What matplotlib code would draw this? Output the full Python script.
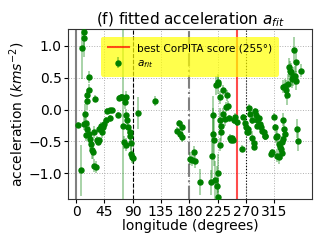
import matplotlib
matplotlib.use("Agg")
import matplotlib.pyplot as plt
import numpy as np

lon = [3, 8, 9, 12, 13, 12, 14, 15, 16, 17, 18, 20, 20, 18, 21, 22, 23, 25, 26, 28, 30, 29, 32, 33, 34, 36, 37, 39, 41, 42,
       45, 47, 49, 53, 57, 54, 67, 68, 71, 73, 75, 76, 79, 78, 80, 79, 81, 83, 85, 86, 87, 87, 89, 90, 99, 126,
       160, 164, 165, 168, 168,
       181, 184, 188, 189, 197,
       215, 216, 217, 218, 219, 221, 222, 225, 226, 224, 225, 226, 228, 229, 230, 231, 233, 229, 234, 237, 238, 240, 242, 243,
       245, 246, 247, 250, 251, 253, 255,
       263, 265, 268, 270, 271, 273, 274, 275, 277, 279, 280, 282, 283, 284, 286, 287, 288, 290, 292, 294, 296, 298, 300, 301,
       315, 316, 310, 312, 318, 319, 320, 322, 323, 324, 326, 327, 329, 330, 332, 329, 327,
       329, 332, 334, 336, 337, 339, 340, 341, 343, 344, 347, 348, 349, 350, 351, 352, 357]
acc = [-0.24, -0.95, 0.97, 1.22, 1.12, -0.22, -0.07, -0.21, -0.40, 0.14, 0.22, 0.51, 0.30, -0.30, -0.38, -0.46, -0.54, -0.63, -0.67, -0.35, 0.17, -0.88, -0.90, -0.47, -0.51, -0.48, -0.30, -0.25, -0.35, -0.28,
       -0.22, -0.17, -0.02, -0.01, -0.01, -0.14, -0.09, 0.18, 0.20, 0.19, -0.25, -0.51, -0.55, 0.11, 0.19, -0.09, -0.17, -0.28, -0.35, -0.41, -0.53, -0.69, -0.74, -0.76, -0.06, 0.13,
       -0.33, -0.21, -0.38, -0.28, -0.43,
       -0.77, -0.79, -0.67, -0.81, -1.13,
       -1.14, -0.72, -0.38, -0.09, -0.48, -1.11, 0.38, 0.40, 0.43, -1.19, -1.37, -1.00, -0.55, -0.17, -0.35, -0.25, -0.07, 0.19, 0.30, -0.15, 0.04, 0.22, 0.05, -0.13,
       -0.44, -0.48, -0.45, -0.48, -0.17, -0.11, -0.20,
       -0.61, -0.12, -0.21, -0.27, -0.35, -0.30, -0.35, 0.03, -0.07, -0.44, -0.17, -0.59, -0.53, -0.02, -0.09, -0.17, -0.25, -0.14, -0.22, -0.28, -0.33, -0.35, -0.41, -0.42,
       -0.11, -0.28, -0.69, -0.67, -0.43, -0.41, -0.72, -0.75, -0.54, -0.59, -0.61, -0.51, -0.16, -0.30, -0.38, -0.46, -0.68,
       0.36, 0.37, 0.31, 0.22, 0.40, 0.66, 0.61, 0.58, 0.48, 0.52, 0.93, 0.53, 0.45, 0.74, -0.30, -0.50, 0.61]
err = [0.05, 0.4, 0.5, 0.3, 0.3, 0.1, 0.15, 0.1, 0.1, 0.15, 0.1, 0.1, 0.1, 0.1, 0.15, 0.15, 0.1, 0.15, 0.1, 0.1, 0.05, 0.1, 0.1, 0.05, 0.05, 0.05, 0.05, 0.05, 0.1, 0.05,
       0.05, 0.05, 0.05, 0.03, 0.03, 0.05, 0.05, 0.05, 0.05, 0.05, 2.0, 0.1, 0.1, 0.1, 0.1, 0.1, 0.1, 0.1, 0.1, 0.1, 0.1, 0.1, 0.1, 0.1, 0.25, 0.08,
       0.05, 0.05, 0.05, 0.08, 0.08,
       0.1, 0.1, 0.1, 0.1, 0.2,
       0.2, 0.35, 0.4, 0.3, 0.4, 0.3, 0.15, 0.15, 0.1, 0.3, 0.3, 0.3, 0.1, 0.2, 0.15, 0.1, 0.1, 0.1, 0.08, 0.1, 0.08, 0.08, 0.08, 0.05,
       0.05, 0.05, 0.05, 0.05, 0.05, 0.05, 0.05,
       0.05, 0.05, 0.05, 0.05, 0.05, 0.05, 0.05, 0.05, 0.05, 0.1, 0.05, 0.05, 0.05, 0.05, 0.05, 0.05, 0.05, 0.05, 0.05, 0.05, 0.05, 0.05, 0.05, 0.05,
       0.05, 0.05, 0.05, 0.05, 0.1, 0.1, 0.1, 0.1, 0.1, 0.1, 0.1, 0.1, 0.1, 0.15, 0.1, 0.1, 0.1,
       0.1, 0.1, 0.15, 0.15, 0.15, 0.15, 0.15, 0.15, 0.15, 0.15, 0.2, 0.15, 0.15, 0.15, 0.15, 0.15, 0.1]

best_lon = 255
vlines = [0, 90, 180, 270]
xticks = [0, 45, 90, 135, 180, 225, 270, 315]
yticks = [-1.0, -0.5, 0.0, 0.5, 1.0]

fig = plt.figure(figsize=(3.27, 2.45), dpi=100)
ax = fig.add_axes([68/327, 1 - 199/245, (312-68)/327, (199-29)/245])

ax.grid(True, linestyle=':', color='#b0b0b0', linewidth=0.7)
ax.axvline(vlines[0], color='gray', linewidth=1.5, linestyle='-')
ax.axvline(vlines[1], color='black', linewidth=0.8, linestyle='--')
ax.axvline(vlines[2], color='gray', linewidth=1.5, linestyle='-.')
ax.axvline(vlines[3], color='black', linewidth=0.8, linestyle=':')
ax.axvline(best_lon, color='red', linewidth=1.5, alpha=0.7, label='best CorPITA score (255°)')

eb = ax.errorbar(lon, acc, yerr=err, fmt='o', color='green', ecolor='green', elinewidth=1.2,
                 markersize=3.6, label='$a_{fit}$', zorder=3)
for lc in eb[2]:
    lc.set_alpha(0.4)

ax.set_xlim(-13, 375)
ax.set_ylim(-1.40, 1.26)
ax.set_xticks(xticks)
ax.set_yticks(yticks)
ax.tick_params(labelsize=10, length=3, pad=1.5)
for s in ax.spines.values():
    s.set_color('#333333')
ax.set_xlabel('longitude (degrees)', fontsize=10, labelpad=0)
ax.set_ylabel('acceleration ($kms^{-2}$)', fontsize=10, labelpad=1)
ax.set_title('(f) fitted acceleration $a_{fit}$', fontsize=11, pad=3)

leg = ax.legend(loc='upper center', fontsize=7.6, facecolor='yellow', framealpha=0.7,
                borderpad=0.6, handlelength=2, bbox_to_anchor=(0.5, 0.985))
leg.get_frame().set_edgecolor('none')

fig.savefig('out.png', dpi=100)
